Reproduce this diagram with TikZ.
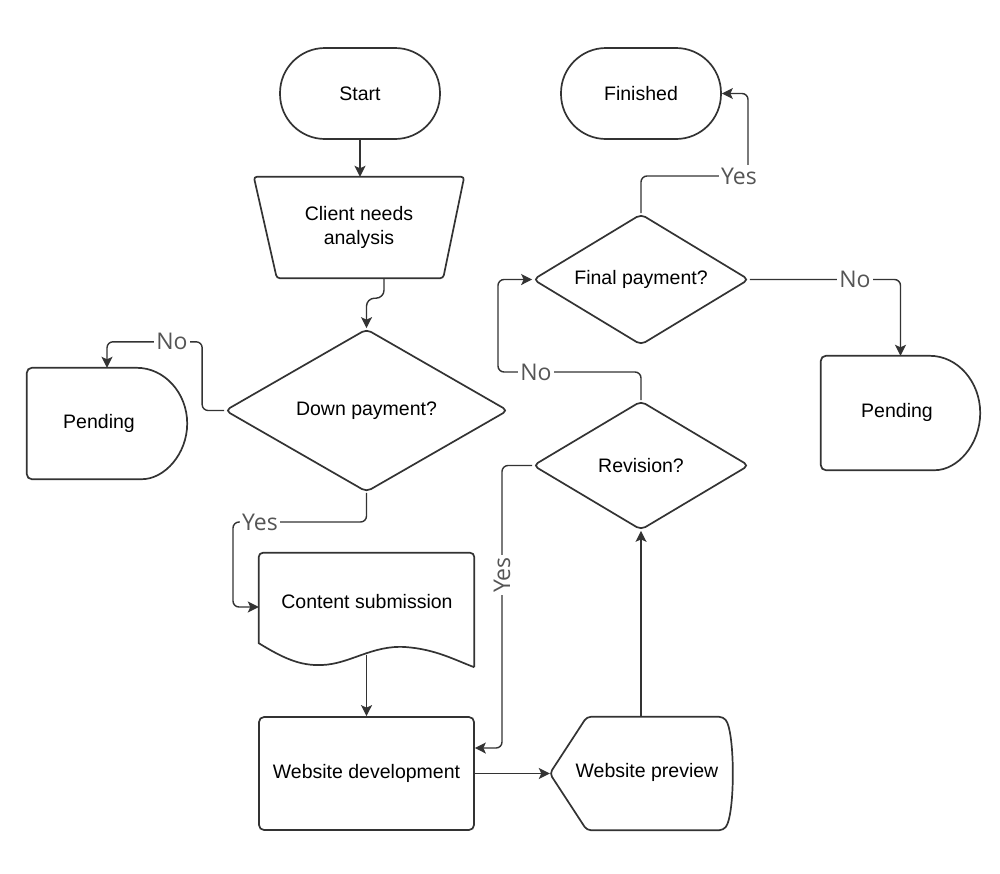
\documentclass[tikz,border=0pt]{standalone}
\usepackage{fontspec}
\setmainfont{Liberation Sans}
\newfontfamily\labfont{Open Sans}
\usetikzlibrary{shapes.geometric,arrows.meta,calc}
\definecolor{ln}{HTML}{333333}
\definecolor{lb}{HTML}{555555}
\tikzset{
  shp/.style={draw=ln, line width=1.7pt},
  txt/.style={font=\fontsize{19.5}{24.3}\selectfont, text=black, align=center, inner sep=0pt},
  bbox/.style={inner sep=0pt},
  dia/.style={shp, txt, diamond, aspect=1.7, rounded corners=5pt},
  stad/.style={shp, txt, rounded corners=45pt, minimum width=160pt, minimum height=91pt},
  conn/.style={draw=ln, line width=1.4pt, rounded corners=6pt, -{Stealth[length=11pt,width=11pt,inset=2.5pt]}},
  lab/.style={font=\labfont\fontsize{23}{26}\selectfont, text=lb, fill=white, inner sep=2.5pt}
}
\begin{document}
\begin{tikzpicture}[x=1pt,y=-1pt]
\fill[white] (0,0) rectangle (1000,873);
\useasboundingbox (0,0) rectangle (1000,873);

% terminals
\node[stad] (st) at (360,93.5) {Start};
\node[stad] (fn) at (641,93.5) {Finished};

% client needs analysis (manual trapezoid)
\node[bbox, txt, minimum width=210pt, minimum height=101pt] (ca) at (359,227.5) {Client needs\\analysis};
\draw[shp, rounded corners=3pt] (ca.north west) -- (ca.north east) -- ([xshift=-21pt]ca.south east) -- ([xshift=23pt]ca.south west) -- cycle;

% decisions
\node[dia, minimum width=283pt, minimum height=163pt] (dp) at (366.5,410.5) {Down payment?};
\node[dia, minimum width=216pt, minimum height=131pt] (fp) at (641,279.5) {Final payment?};
\node[dia, minimum width=216pt, minimum height=129pt] (rv) at (641,465.5) {Revision?};

% pending left (delay shape)
\node[bbox, minimum width=160pt, minimum height=111pt] (pl) at (107,423.5) {};
\node[txt] (pltext) at (99,423) {Pending};
\draw[shp] (pl.east) .. controls +(0,-30.6) and +(27.6,0) .. ([xshift=110pt]pl.north west)
  [rounded corners=5pt] -- (pl.north west) -- (pl.south west) -- ([xshift=110pt]pl.south west)
  [sharp corners] .. controls +(27.6,0) and +(0,30.6) .. (pl.east);

% pending right
\node[bbox, minimum width=159pt, minimum height=114pt] (pr) at (900.5,413) {};
\node[txt] (prtext) at (897,412) {Pending};
\draw[shp] (pr.east) .. controls +(0,-31.5) and +(27.6,0) .. ([xshift=109pt]pr.north west)
  [rounded corners=5pt] -- (pr.north west) -- (pr.south west) -- ([xshift=109pt]pr.south west)
  [sharp corners] .. controls +(27.6,0) and +(0,31.5) .. (pr.east);

% content submission (document shape)
\node[bbox, minimum width=215pt, minimum height=114pt] (cs) at (366.5,610) {};
\node[txt] (cstext) at (367,602) {Content submission};
\draw[shp] (cs.south east)
  .. controls (455,660) and (435,649) .. (405,647)
  .. controls (372,645) and (350,664) .. (322,665)
  .. controls (300,666) and (283,658) .. ([yshift=24pt]cs.south west)
  [rounded corners=4pt] -- (cs.north west) -- (cs.north east) -- (cs.south east);

% website development
\node[shp, txt, rounded corners=5pt, minimum width=215pt, minimum height=113pt] (wd) at (366.5,773.5) {Website development};

% website preview (display shape)
\node[bbox, minimum width=183pt, minimum height=113pt] (wp) at (641.5,773.5) {};
\node[txt] (wptext) at (647,772) {Website preview};
\draw[shp, rounded corners=4pt] (wp.west) -- ([xshift=37pt]wp.north west) -- ([xshift=-10pt]wp.north east)
  .. controls +(12,15) and +(12,-15) .. ([xshift=-10pt]wp.south east) -- ([xshift=37pt]wp.south west) -- cycle;

% connectors
\draw[conn] (st.south) -- (st.south |- ca.north);
\draw[conn, rounded corners=8pt] ([xshift=25pt]ca.south) -- ++(0,20) -| (dp.north);
\draw[conn] (dp.west) -- ++(-22,0) |- ($(pl.north)+(0,-26)$) -- (pl.north);
\draw[conn] (dp.south) |- (233,522) |- ([yshift=3pt]cs.west);
\draw[conn] ([yshift=12pt]cs.south) -- (wd.north);
\draw[conn] (wd.east) -- (wp.west);
\draw[conn] (rv.south |- wp.north) -- (rv.south);
\draw[conn] (rv.west) -| (502,748) -- ([yshift=25.5pt]wd.east);
\draw[conn] (rv.north) |- (498,372) |- (fp.west);
\draw[conn] (fp.north) |- (748,176) |- (fn.east);
\draw[conn] (fp.east) -| (pr.north);

% labels
\node[lab] (l1) at (172,341) {No};
\node[lab] (l2) at (260,522) {Yes};
\node[lab, rotate=90] (l3) at (502,575) {Yes};
\node[lab] (l4) at (536,372) {No};
\node[lab] (l5) at (739,176) {Yes};
\node[lab] (l6) at (855,279) {No};
\end{tikzpicture}
\end{document}
